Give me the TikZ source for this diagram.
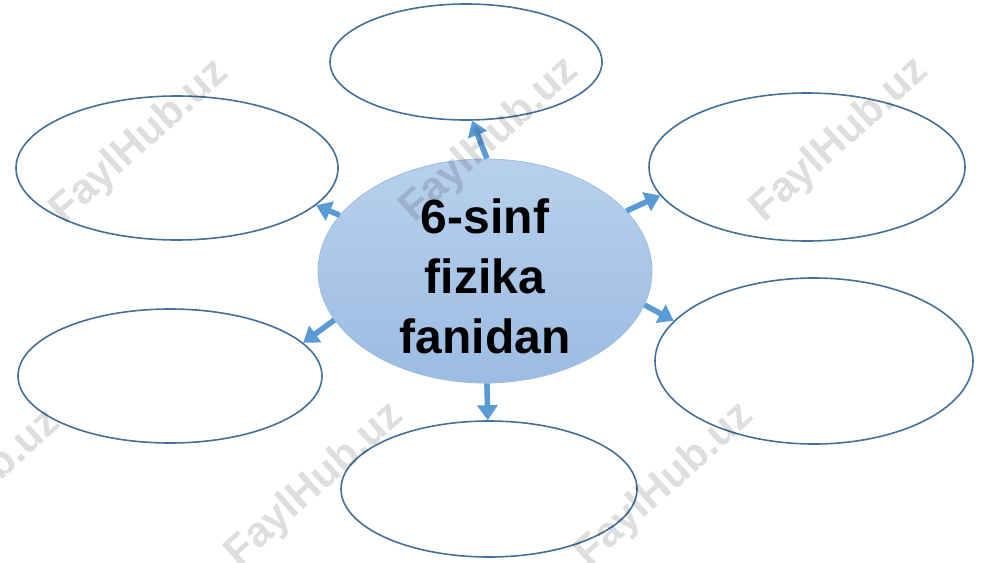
\documentclass[tikz,border=0pt]{standalone}
\usepackage{fontspec}
\setmainfont{Liberation Sans}
\usetikzlibrary{shapes.geometric,arrows.meta}
\definecolor{rim}{HTML}{41709A}
\definecolor{arrowblue}{HTML}{5B9BD5}
\definecolor{hubtop}{HTML}{B8D0EC}
\definecolor{hubbot}{HTML}{9CBCE3}
\tikzset{
  leaf/.style={ellipse, draw=rim, line width=0.8pt, fill=white, inner sep=0pt},
  hub/.style={ellipse, top color=hubtop, bottom color=hubbot, draw=hubbot, line width=0.4pt, inner sep=0pt},
  conn/.style={draw=arrowblue, line width=2.8pt, -{Triangle[length=7.5pt,width=10pt]}},
  wmark/.style={text=black, opacity=0.13, font=\bfseries\fontsize{21}{21}\selectfont, rotate=42, inner sep=0pt}
}
\begin{document}
\begin{tikzpicture}[x=0.5pt,y=-0.5pt]
\useasboundingbox (0,0) rectangle (1000,562);
\node[leaf, minimum width=136pt, minimum height=58pt] (top) at (466,62) {};
\node[leaf, minimum width=161pt, minimum height=72pt] (ul) at (177,168) {};
\node[leaf, minimum width=158pt, minimum height=74pt] (ur) at (807,167) {};
\node[leaf, minimum width=152pt, minimum height=67pt] (ll) at (170,376) {};
\node[leaf, minimum width=159pt, minimum height=83pt] (lr) at (814,361) {};
\node[leaf, minimum width=148pt, minimum height=68pt] (bot) at (489,489) {};
\node[hub, minimum width=167pt, minimum height=112pt] (hub) at (485,271) {};
\node[align=center, font=\bfseries\fontsize{24}{30}\selectfont, inner sep=0pt] (title) at (485,276) {6-sinf\\fizika\\fanidan};
\draw[conn] (hub.89) -- (top.-84);
\draw[conn] (hub.159) -- (ul.-15);
\draw[conn] (hub.23) -- (ur.-169);
\draw[conn] (hub.-12) -- (lr.164);
\draw[conn] (hub.-162) -- (ll.14);
\draw[conn] (hub.-89) -- (bot.91);
\node[wmark] (w1) at (140,142) {FaylHub.uz};
\node[wmark] (w2) at (490,140) {FaylHub.uz};
\node[wmark] (w3) at (840,140) {FaylHub.uz};
\node[wmark] (w4) at (-28,492) {FaylHub.uz};
\node[wmark] (w5) at (315,485) {FaylHub.uz};
\node[wmark] (w6) at (665,485) {FaylHub.uz};
\end{tikzpicture}
\end{document}
